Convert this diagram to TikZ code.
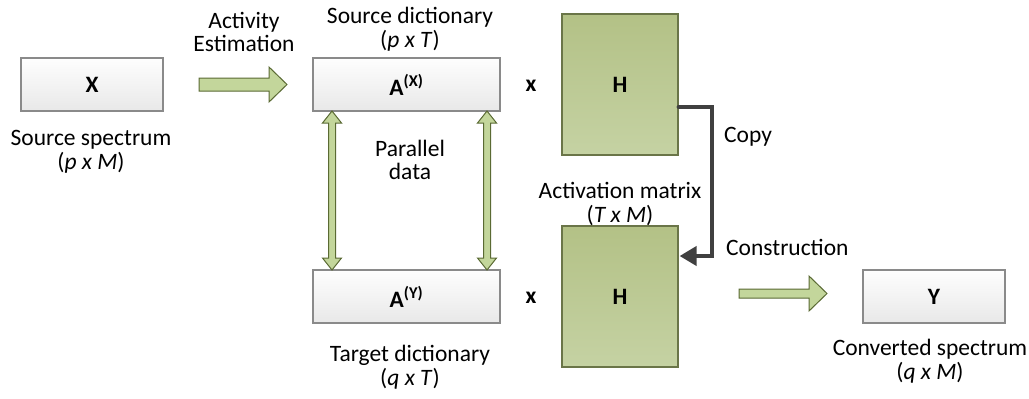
\documentclass[tikz,border=0pt]{standalone}
\usepackage{fontspec}
\setmainfont{Carlito}
\usetikzlibrary{arrows.meta}
\definecolor{boxtop}{HTML}{FEFEFE}
\definecolor{boxbot}{HTML}{E8E8E8}
\definecolor{boxline}{HTML}{8A8A8A}
\definecolor{htop}{HTML}{B3C186}
\definecolor{hbot}{HTML}{C5D2A3}
\definecolor{hline}{HTML}{6A7548}
\definecolor{arrfill}{HTML}{C3D69B}
\definecolor{arrline}{HTML}{5A6A33}
\definecolor{copyline}{HTML}{404040}
\tikzset{
  every node/.style={font=\fontsize{23.5bp}{23.5bp}\selectfont},
  matbox/.style={draw=boxline, line width=1.2bp, top color=boxtop, bottom color=boxbot, inner sep=0pt},
  hbox/.style={draw=hline, line width=1.2bp, top color=htop, bottom color=hbot, inner sep=0pt},
  blockarrow/.style={draw=arrline, line width=1bp, fill=arrfill, line join=miter},
  lbl/.style={align=center, inner sep=0pt},
  bold/.style={font=\fontsize{23.5bp}{24bp}\selectfont\bfseries},
}
\begin{document}
\begin{tikzpicture}[x=1bp,y=-1bp]
\useasboundingbox (0,0) rectangle (1029,398);
% boxes
\node[matbox, minimum width=142bp, minimum height=53bp] (X) at (92,84.5) {};
\node[bold] (Xl) at (X.center) {X};
\node[matbox, minimum width=187bp, minimum height=53bp] (AX) at (406.5,84.5) {};
\node[bold] (AXl) at (AX.center) {A\textsuperscript{(X)}};
\node[matbox, minimum width=187bp, minimum height=53bp] (AY) at (406.5,296.5) {};
\node[bold] (AYl) at (AY.center) {A\textsuperscript{(Y)}};
\node[hbox, minimum width=116bp, minimum height=141bp] (H1) at (620,84.5) {};
\node[bold] (H1l) at (H1.center) {H};
\node[hbox, minimum width=116bp, minimum height=141bp] (H2) at (620,296.5) {};
\node[bold] (H2l) at (H2.center) {H};
\node[matbox, minimum width=142bp, minimum height=53bp] (Y) at (934,296.5) {};
\node[bold] (Yl) at (Y.center) {Y};
\node[bold] (times1) at (531,86) {x};
\node[bold] (times2) at (531,298) {x};
% labels
\node[lbl] (srcspec) at (91,152) {Source spectrum\\(\textit{p x M})};
\node[lbl] (actest) at (244,32) {Activity\\Estimation};
\node[lbl] (srcdict) at (410,29) {Source dictionary\\(\textit{p x T})};
\node[lbl] (pardata) at (410,160) {Parallel\\data};
\node[lbl] (actmat) at (620,204) {Activation matrix\\(\textit{T x M})};
\node[lbl, anchor=west] (copy) at (724,137) {Copy};
\node[lbl, anchor=west] (constr) at (726,247) {Construction};
\node[lbl] (tgtdict) at (410,367) {Target dictionary\\(\textit{q x T})};
\node[lbl] (convspec) at (930,361) {Converted spectrum\\(\textit{q x M})};
% block arrows
\draw[blockarrow] (199,78) -- (269,78) -- (269,67) -- (287,84.5) -- (269,102) -- (269,91) -- (199,91) -- cycle;
\draw[blockarrow] (739,289) -- (809,289) -- (809,276) -- (827,293.5) -- (809,311) -- (809,298) -- (739,298) -- cycle;
% double vertical arrows
\foreach \cx/\nm in {332/pl, 487/pr}{
  \draw[blockarrow] (\cx,111) -- (\cx+9.5,123) -- (\cx+3.5,123) -- (\cx+3.5,258) -- (\cx+9.5,258) -- (\cx,270)
    -- (\cx-9.5,258) -- (\cx-3.5,258) -- (\cx-3.5,123) -- (\cx-9.5,123) -- cycle;
}
% copy connector
\coordinate (c1) at (H1.east |- 0,107);
\coordinate (c2) at (H2.east |- 0,256);
\draw[copyline, line width=4bp, line cap=round, line join=miter,
  -{Triangle[length=17bp, width=19bp]}] (c1) -- (712,107) -- (712,256) -- ([xshift=1bp]c2);
\end{tikzpicture}
\end{document}
